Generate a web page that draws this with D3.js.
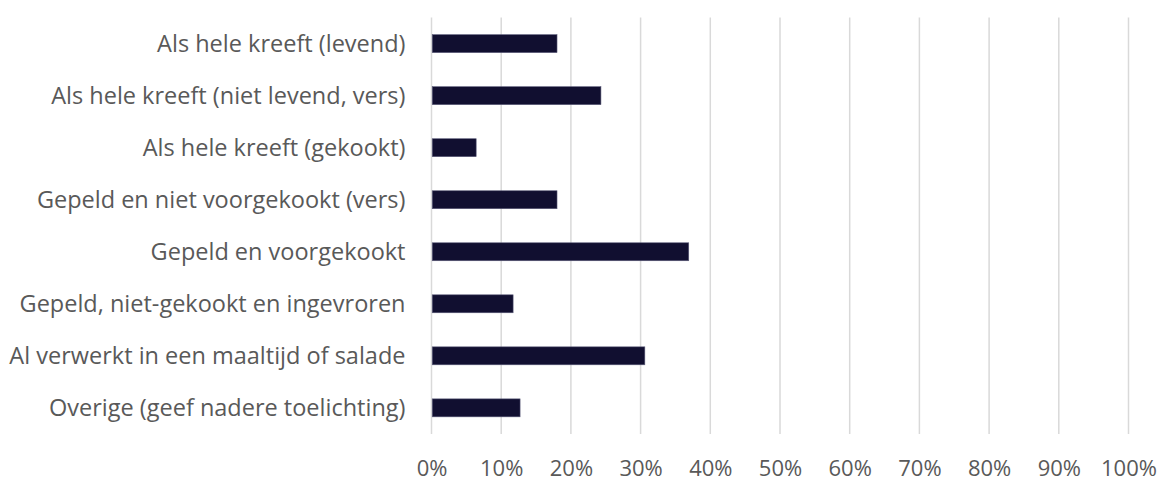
<!DOCTYPE html>
<html lang="nl">
<head>
    <meta charset="UTF-8">
    <title>Kreeft vormen</title>
    <script src="https://d3js.org/d3.v7.min.js"></script>
    <style>
        body { margin: 0; background: #fff; }
        text { fill: #595959; }
    </style>
</head>
<body>
    <div id="chart"></div>
    <script>
        // categorieën en waarden (aandeel)
        const categories = [
            "Als hele kreeft (levend)",
            "Als hele kreeft (niet levend, vers)",
            "Als hele kreeft (gekookt)",
            "Gepeld en niet voorgekookt (vers)",
            "Gepeld en voorgekookt",
            "Gepeld, niet-gekookt en ingevroren",
            "Al verwerkt in een maaltijd of salade",
            "Overige (geef nadere toelichting)"
        ];
        const values = [0.179, 0.242, 0.063, 0.179, 0.368, 0.116, 0.305, 0.126];
        const ticks = [0, 0.1, 0.2, 0.3, 0.4, 0.5, 0.6, 0.7, 0.8, 0.9, 1];

        const width = 1160;
        const height = 480;
        const margin = { top: 17.5, right: 31.5, bottom: 46, left: 431.5 };

        const svg = d3.select("#chart")
            .append("svg")
            .attr("width", width)
            .attr("height", height);

        const x = d3.scaleLinear()
            .domain([0, 1])
            .range([margin.left, width - margin.right]);

        const y = d3.scaleBand()
            .domain(categories)
            .range([margin.top, height - margin.bottom])
            .paddingInner(0.655)
            .paddingOuter(0.33);

        // rasterlijnen
        svg.append("g")
            .selectAll("line")
            .data(ticks)
            .enter()
            .append("line")
            .attr("x1", d => x(d))
            .attr("x2", d => x(d))
            .attr("y1", margin.top)
            .attr("y2", height - margin.bottom)
            .attr("stroke", "#d9d9d9")
            .attr("stroke-width", 1.5);

        // balken
        svg.append("g")
            .selectAll("rect")
            .data(values)
            .enter()
            .append("rect")
            .attr("x", x(0) + 0.75)
            .attr("y", (d, i) => y(categories[i]))
            .attr("width", d => x(d) - x(0))
            .attr("height", y.bandwidth())
            .attr("fill", "#110f30")
            .attr("stroke", "#5a5a78")
            .attr("stroke-width", 0.6);

        // categorie-labels
        const yAxis = svg.append("g")
            .attr("transform", `translate(${margin.left - 26},0)`)
            .call(d3.axisLeft(y).tickSize(0).tickPadding(0));
        yAxis.select(".domain").remove();
        yAxis.selectAll("text")
            .attr("font-size", "23.5px")
            .attr("font-family", "'Open Sans', sans-serif")
            .attr("fill", "#595959")
            .attr("dy", "0.35em");

        // x-as labels
        const xAxis = svg.append("g")
            .attr("transform", `translate(0,${height - margin.bottom})`)
            .call(d3.axisBottom(x).tickValues(ticks).tickFormat(d3.format(".0%")).tickSize(0).tickPadding(26));
        xAxis.select(".domain").remove();
        xAxis.selectAll("text")
            .attr("font-size", "22px")
            .attr("font-family", "'Open Sans', sans-serif")
            .attr("fill", "#595959");
    </script>
</body>
</html>
